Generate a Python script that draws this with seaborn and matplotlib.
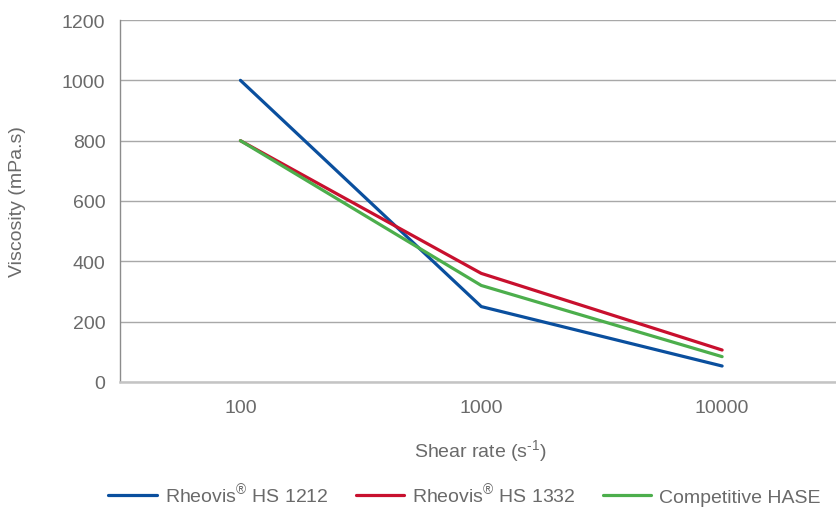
import matplotlib
matplotlib.use("Agg")
import matplotlib.pyplot as plt
from matplotlib.ticker import MultipleLocator, FixedLocator
import seaborn as sns
import pandas as pd

shear_rates = ["100", "1000", "10000"]
series_names = [r"Rheovis$^{\mathregular{®}}$ HS 1212",
                r"Rheovis$^{\mathregular{®}}$ HS 1332",
                "Competitive HASE"]
hs1212 = [1000, 250, 53]
hs1332 = [800, 360, 106]
hase = [800, 320, 84]
colors = ["#0a4f9e", "#c8102e", "#4cae4c"]

rows = []
for name, vals in zip(series_names, [hs1212, hs1332, hase]):
    for i, (sr, v) in enumerate(zip(shear_rates, vals)):
        rows.append({"pos": i, "shear": sr, "visc": v, "series": name})
df = pd.DataFrame(rows)

sns.set_style("white")
plt.rcParams["font.family"] = ["Liberation Sans", "DejaVu Sans"]
plt.rcParams["mathtext.fontset"] = "custom"
plt.rcParams["mathtext.rm"] = "Liberation Sans"
txt = "#6a6a6a"
fs = 14

fig = plt.figure(figsize=(8.37, 5.10), dpi=100)
ax = fig.add_axes([120/837, 1-383/510, 1-120/837, (383-21)/510])

sns.lineplot(data=df, x="pos", y="visc", hue="series", palette=colors,
             hue_order=series_names, linewidth=2.3, ax=ax, legend=False,
             sort=False)

ax.set_xlim(-0.5, 2.477)
ax.set_ylim(0, 1200)
ax.yaxis.set_major_locator(MultipleLocator(200))
ax.yaxis.set_minor_locator(MultipleLocator(200/3))
ax.xaxis.set_major_locator(FixedLocator([0, 1, 2]))
ax.set_xticklabels(shear_rates)
ax.xaxis.set_minor_locator(FixedLocator([0.5, 1.5]))

ax.grid(axis="y", which="major", color="#a8a8a8", linewidth=1.0)
ax.set_axisbelow(True)
for s in ["top", "right"]:
    ax.spines[s].set_visible(False)
ax.spines["left"].set_color("#8c8c8c")
ax.spines["left"].set_linewidth(1.0)
ax.spines["bottom"].set_color("#c4c4c4")
ax.spines["bottom"].set_linewidth(1.8)

ax.tick_params(axis="y", which="major", direction="out", length=6.5, width=1,
               color="#8c8c8c", pad=4, labelsize=fs, labelcolor=txt)
ax.tick_params(axis="y", which="minor", direction="inout", length=7, width=1,
               color="#8c8c8c")
ax.tick_params(axis="x", which="major", length=0, pad=12, labelsize=fs,
               labelcolor=txt)
ax.tick_params(axis="x", which="minor", direction="inout", length=7, width=1,
               color="#8c8c8c")
ax.set_xlabel("")
ax.set_ylabel("")

fig.text(18/837, 1-202/510, "Viscosity (mPa.s)", rotation=90, ha="center",
         va="center", fontsize=fs, color=txt)
fig.text(480/837, 1-451/510, "Shear rate (s$\\mathregular{^{\u20101}}$)",
         ha="center", va="center", fontsize=fs, color=txt)

handles = [plt.Line2D([], [], color=c, linewidth=2.3) for c in colors]
leg = fig.legend(handles, series_names, loc="center", ncol=3, frameon=False,
                 bbox_to_anchor=(464.5/837, 1-495/510), fontsize=fs,
                 handlelength=2.5, handletextpad=0.4, columnspacing=1.4,
                 borderpad=0.2)
for t in leg.get_texts():
    t.set_color(txt)

fig.savefig("out.png", dpi=100)
